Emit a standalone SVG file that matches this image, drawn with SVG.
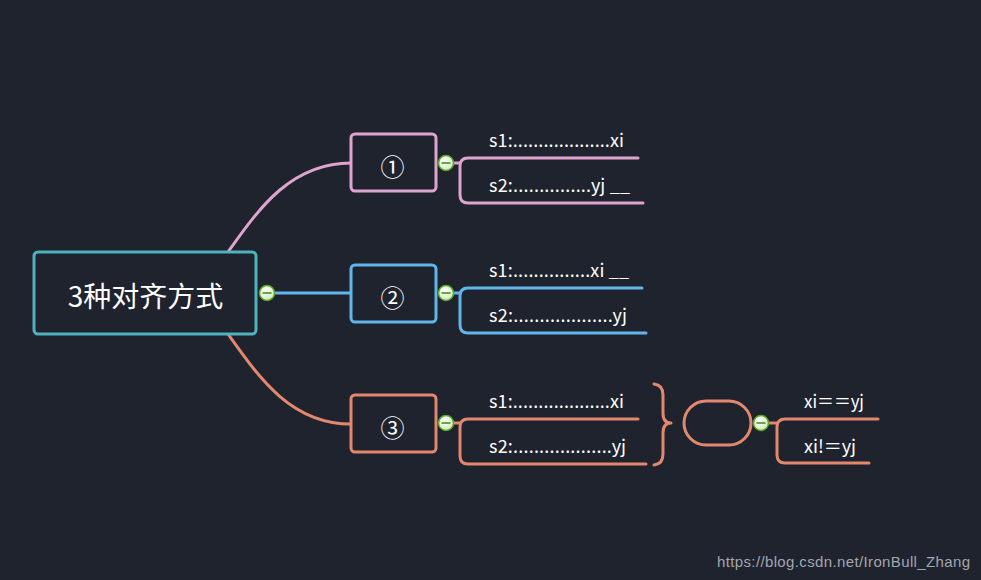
<svg xmlns="http://www.w3.org/2000/svg" width="981" height="580" viewBox="0 0 981 580">
<defs>
<radialGradient id="cg" cx="0.4" cy="0.35" r="0.7">
<stop offset="0" stop-color="#ffffff"/>
<stop offset="1" stop-color="#cfe8b8"/>
</radialGradient>
<g id="col">
<circle r="7.5" fill="url(#cg)" stroke="#5aa826" stroke-width="1.5"/>
<line x1="-4.5" y1="0" x2="4.5" y2="0" stroke="#3d8a14" stroke-width="1.5"/>
</g>
</defs>
<style>
.t{font-family:"Noto Sans CJK SC","Open Sans",sans-serif;fill:#ffffff;font-size:18px}
.c{fill:none;stroke-width:3;stroke-linecap:round;stroke-linejoin:round}
.pk{stroke:#dfa3cf}
.bl{stroke:#62b5ec}
.sa{stroke:#e3886f}
.box{fill:#1f232e;stroke-width:3}
.num{font-family:"Noto Sans CJK SC","DejaVu Sans",sans-serif;fill:#ffffff;font-size:24px;text-anchor:middle;dominant-baseline:central}
</style>
<rect width="981" height="580" fill="#1f232e"/>
<g id="connectors">
<path class="c pk" d="M228,252 C258,210 290,163 351,163"/>
<path class="c bl" d="M274,293 H351"/>
<path class="c sa" d="M228,334 C258,376 290,424 351,424"/>
<path class="c pk" d="M453,163 H460"/>
<path class="c pk" d="M638,158 H468 Q460,158 460,166 V195 Q460,203 468,203 H643"/>
<path class="c bl" d="M453,293 H460"/>
<path class="c bl" d="M642,288 H468 Q460,288 460,296 V325 Q460,333 468,333 H646"/>
<path class="c sa" d="M453,423 H460"/>
<path class="c sa" d="M638,419 H468 Q460,419 460,427 V456 Q460,464 468,464 H646"/>
<path class="c sa" d="M768,423 H777"/>
<path class="c sa" d="M878,419 H785 Q777,419 777,427 V455 Q777,463 785,463 H869"/>
</g>
<g id="root">
<rect class="box" x="34" y="252" width="222" height="82" rx="4" stroke="#4db4bd"/>
<text x="145.5" y="295" font-family="Noto Sans CJK SC,sans-serif" font-size="28" fill="#ffffff" text-anchor="middle" dominant-baseline="central">3种对齐方式</text>
<use href="#col" x="267" y="293"/>
</g>
<g id="n1">
<rect class="box pk" x="351" y="134" width="85" height="57" rx="4"/>
<text class="num" x="392.5" y="165">①</text>
<use href="#col" x="446" y="163"/>
</g>
<g id="n2">
<rect class="box bl" x="351" y="265" width="85" height="57" rx="4"/>
<text class="num" x="392.5" y="296">②</text>
<use href="#col" x="446" y="293"/>
</g>
<g id="n3">
<rect class="box sa" x="351" y="395" width="85" height="57" rx="4"/>
<text class="num" x="392.5" y="426">③</text>
<use href="#col" x="446" y="423"/>
</g>
<g id="n1a"><text class="t" x="489" y="147" textLength="135" lengthAdjust="spacing">s1:...................xi</text></g>
<g id="n1b"><text class="t" x="489" y="192" textLength="141" lengthAdjust="spacing">s2:...............yj __</text></g>
<g id="n2a"><text class="t" x="489" y="277" textLength="140" lengthAdjust="spacing">s1:...............xi __</text></g>
<g id="n2b"><text class="t" x="489" y="322" textLength="138" lengthAdjust="spacing">s2:...................yj</text></g>
<g id="n3a"><text class="t" x="489" y="408" textLength="135" lengthAdjust="spacing">s1:...................xi</text></g>
<g id="n3b"><text class="t" x="489" y="453" textLength="137" lengthAdjust="spacing">s2:...................yj</text></g>
<g id="brace">
<path class="c sa" d="M654,384 Q663,385 663,395 V413 Q663,423 671,423 Q663,423 663,433 V454 Q663,464 654,465"/>
</g>
<g id="pill">
<rect class="box sa" x="684" y="401" width="67" height="44" rx="22"/>
<use href="#col" x="761" y="423"/>
</g>
<g id="p1"><text class="t" x="804" y="408" textLength="60" lengthAdjust="spacingAndGlyphs">xi＝＝yj</text></g>
<g id="p2"><text class="t" x="804" y="453" textLength="52" lengthAdjust="spacingAndGlyphs">xi!＝yj</text></g>
<text x="717" y="567" font-family="Liberation Sans,Arial,sans-serif" font-size="15" fill="#a3a7ae" textLength="253">https://blog.csdn.net/IronBull_Zhang</text>
</svg>
